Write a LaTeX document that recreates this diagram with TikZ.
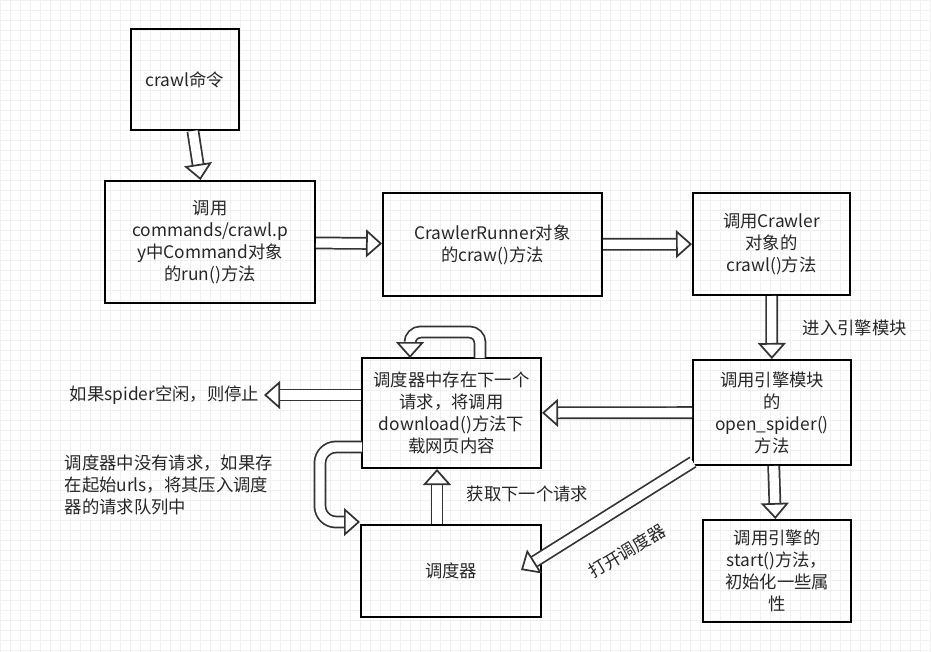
\documentclass[tikz,border=0pt]{standalone}
\usepackage{fontspec}
\setmainfont{Noto Sans CJK SC}
\usetikzlibrary{arrows.meta}
\begin{document}
\begin{tikzpicture}[
    x=0.75pt, y=-0.75pt,
    box/.style={rectangle, draw, line width=1.5pt, align=center, inner sep=1pt, font=\fontsize{13}{16.5}\selectfont, text=black!85},
    txt/.style={font=\fontsize{13}{16.5}\selectfont, text=black!85, align=left},
    fat/.style={draw=black!80, line width=1.3pt, double=white, double distance=7pt,
        -{Triangle[width=21pt,length=12pt,fill=white,line width=1.3pt]}}
]
\useasboundingbox (0,0) rectangle (931,652);
\draw[black!6, step=7.5pt] (0,0) grid (931,652);

\node[box, minimum width=81pt, minimum height=75.75pt] (crawl) at (185,79.5) {crawl命令};
\node[box, minimum width=157.5pt, minimum height=91.5pt] (cmd) at (210,242) {调用\\commands/crawl.p\\y中Command对象\\的run()方法};
\node[box, minimum width=164.25pt, minimum height=77.25pt] (runner) at (492.5,244.5) {CrawlerRunner对象\\的craw()方法};
\node[box, minimum width=117.75pt, minimum height=76.5pt] (crawler) at (771.5,244) {调用Crawler\\对象的\\crawl()方法};
\node[box, minimum width=118.5pt, minimum height=78.75pt] (engine) at (772,412.5) {调用引擎模块\\的\\open\_spider()\\方法};
\node[box, minimum width=134.25pt, minimum height=82.5pt] (exist) at (451.5,413) {调度器中存在下一个\\请求，将调用\\download()方法下\\载网页内容};
\node[box, minimum width=135pt, minimum height=69pt] (sched) at (451,571) {调度器};
\node[box, minimum width=111pt, minimum height=76.5pt] (start) at (777,571) {调用引擎的\\start()方法，\\初始化一些属\\性};

\node[txt, anchor=west] (enter) at (798,328) {进入引擎模块};
\node[txt, anchor=east] (idle) at (264,395) {如果spider空闲，则停止};
\node[txt, anchor=west] (noreq) at (60,485) {调度器中没有请求，如果存\\在起始urls，将其压入调度\\器的请求队列中};
\node[txt, anchor=west] (next) at (462,494) {获取下一个请求};
\node[txt, rotate=31, inner sep=0pt] (open) at (627,551) {打开调度器};

\draw[fat] (crawl) -- (cmd);
\draw[fat] (cmd) -- (runner);
\draw[fat] (runner) -- (crawler);
\draw[fat] (crawler) -- (engine);
\draw[fat] (engine) -- (exist);
\draw[fat] (engine) -- (start);
\draw[fat] (exist.west |- idle) -- (idle);
\draw[fat] (sched.north -| 437,0) -- (exist.south -| 437,0);
\coordinate (engtip) at (693,462);
\coordinate (schedin) at (521,570);
\draw[fat] (engtip) -- (schedin);
\coordinate (loopa) at (480,358);
\coordinate (loopb) at (410,358);
\draw[fat, rounded corners=8pt] (loopa) -- (480,332) -- (410,332) -- (loopb);
\coordinate (lefta) at (362,447);
\coordinate (leftb) at (360,522);
\draw[fat, rounded corners=12pt] (lefta) -- (320,447) -- (320,522) -- (leftb);
\end{tikzpicture}
\end{document}
